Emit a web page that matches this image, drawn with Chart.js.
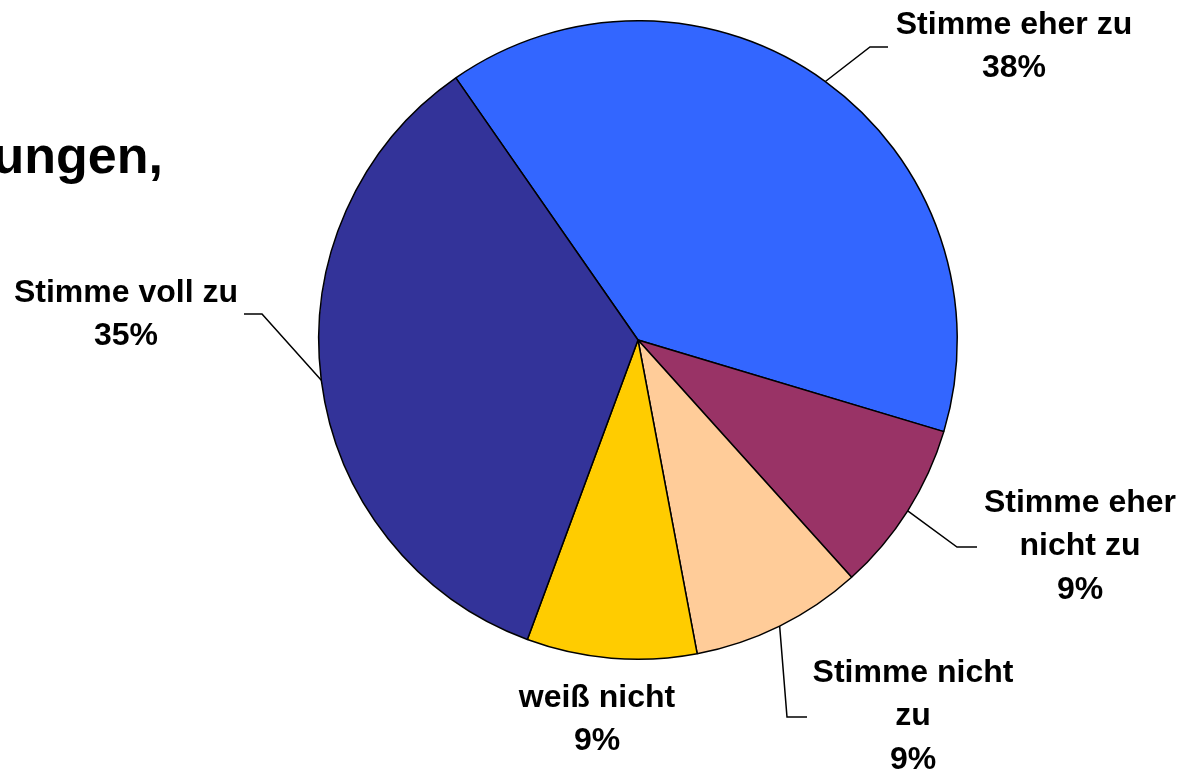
<!DOCTYPE html>
<html>
<head>
<meta charset="utf-8">
<script src="https://cdn.jsdelivr.net/npm/chart.js@4/dist/chart.umd.min.js"></script>
<style>
  html, body { margin: 0; padding: 0; background: #fff; }
  #wrap { position: relative; width: 1198px; height: 774px; overflow: hidden; }
</style>
</head>
<body>
<div id="wrap"><canvas id="pieChart"></canvas></div>
<script>
// slice order, clockwise from the top-left boundary
var categories = ['Stimme eher zu', 'Stimme eher nicht zu', 'Stimme nicht zu', 'weiß nicht', 'Stimme voll zu'];
// slice shares (percent)
var shares = [39.3, 8.7, 8.7, 8.6, 34.7];
// percentages as printed in the labels
var percentLabels = ['38%', '9%', '9%', '9%', '35%'];
var sliceColors = ['#3366FF', '#993366', '#FFCC99', '#FFCC00', '#333399'];

// label text lines, and where they sit / how the leader line bends
var labelLayout = [
	{ lines: ['Stimme eher zu'], x: 1014, y: 25, leader: [[870, 47], [888, 47]] },
	{ lines: ['Stimme eher', 'nicht zu'], x: 1080, y: 503, leader: [[957, 547], [977, 547]] },
	{ lines: ['Stimme nicht', 'zu'], x: 913, y: 673, leader: [[787, 717], [807, 717]] },
	{ lines: ['weiß nicht'], x: 597, y: 698, leader: null },
	{ lines: ['Stimme voll zu'], x: 126, y: 293, leader: [[262, 314], [244, 314]] }
];

var labelPlugin = {
	id: 'pieLabels',
	afterDraw: function(chart) {
		var ctx = chart.ctx;
		var meta = chart.getDatasetMeta(0);
		ctx.save();

		// cut-off title text on the left
		ctx.fillStyle = '#000';
		ctx.font = 'bold 52px "Liberation Sans", Arial, sans-serif';
		ctx.textAlign = 'right';
		ctx.textBaseline = 'alphabetic';
		ctx.fillText('ungen,', 163, 173);

		ctx.font = 'bold 32px "Liberation Sans", Arial, sans-serif';
		ctx.textAlign = 'center';
		ctx.textBaseline = 'middle';
		for (var i = 0; i < meta.data.length; i++) {
			var arc = meta.data[i];
			var p = arc.getProps(['x', 'y', 'startAngle', 'endAngle', 'outerRadius'], true);
			var mid = (p.startAngle + p.endAngle) / 2;
			var lay = labelLayout[i];

			if (lay.leader) {
				ctx.strokeStyle = '#000';
				ctx.lineWidth = 1.5;
				ctx.beginPath();
				ctx.moveTo(p.x + Math.cos(mid) * p.outerRadius, p.y + Math.sin(mid) * p.outerRadius);
				for (var k = 0; k < lay.leader.length; k++) {
					ctx.lineTo(lay.leader[k][0], lay.leader[k][1]);
				}
				ctx.stroke();
			}

			var lines = lay.lines.concat([percentLabels[i]]);
			for (var j = 0; j < lines.length; j++) {
				ctx.fillText(lines[j], lay.x, lay.y + j * 43.5);
			}
		}
		ctx.restore();
	}
};

var chartdata = {
	labels: categories,
	datasets: [{
		data: shares,
		backgroundColor: sliceColors,
		borderColor: '#000',
		borderWidth: 1.5
	}]
};

var options = {
	responsive: true,
	maintainAspectRatio: false,
	animation: false,
	rotation: -34.8,
	layout: { padding: { left: 318, right: 240, top: 20, bottom: 114 } },
	plugins: {
		legend: { display: false },
		tooltip: { enabled: false },
		title: { display: false }
	}
};

var ctx = document.getElementById('pieChart');
var pieChart = new Chart(ctx, {
	type: 'pie',
	data: chartdata,
	options: options,
	plugins: [labelPlugin]
});
</script>
</body>
</html>
